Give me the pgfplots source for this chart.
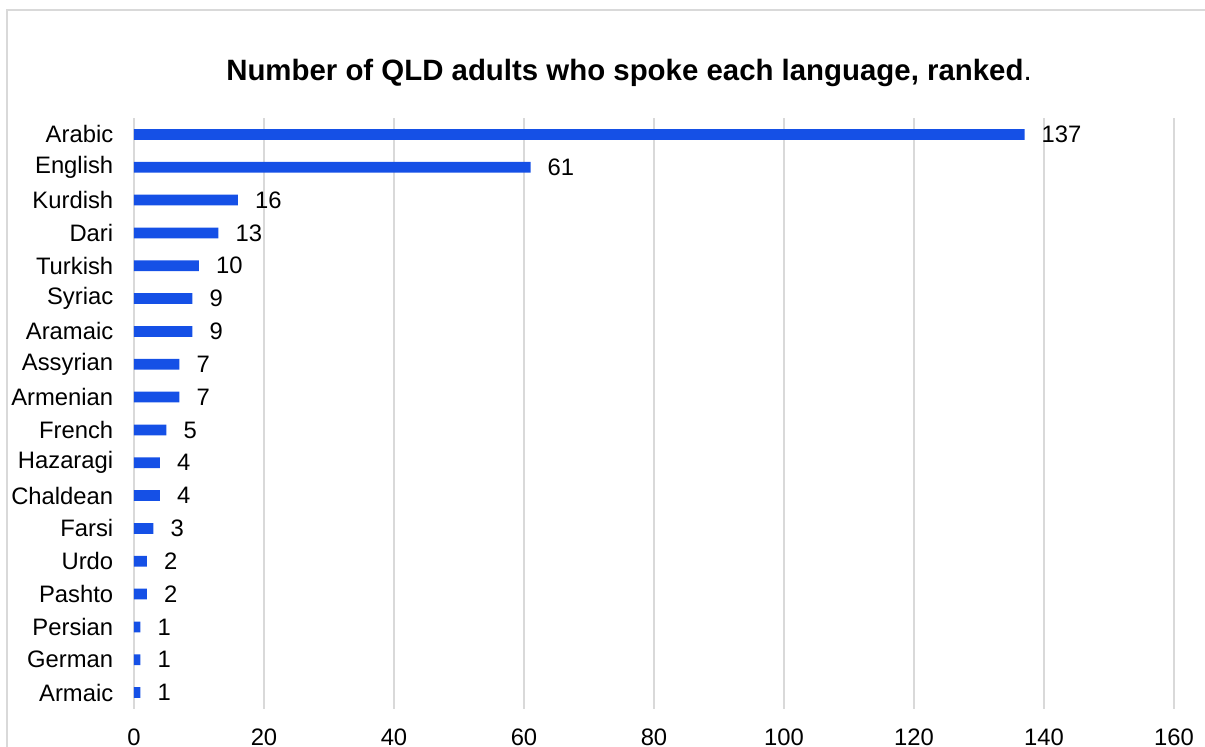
\documentclass[border=0pt]{standalone}
\usepackage{fontspec}
\setmainfont{Liberation Sans}
\usepackage{pgfplots}
\pgfplotsset{compat=1.18}
\definecolor{barblue}{HTML}{1550E6}
\definecolor{gridgray}{HTML}{D9D9D9}
\begin{document}
\begin{tikzpicture}[x=1pt,y=1pt]
\path[use as bounding box] (0,0) rectangle (602.5,373);
\draw[gridgray, line width=0.9pt] (3.5,-10) -- (3.5,368) -- (700,368);
\node[anchor=base, font=\fontsize{14.7}{17}\selectfont\bfseries] at (314.5,332.5) {Number of QLD adults who spoke each language, ranked\textmd{.}};
\begin{axis}[
  at={(67pt,18.5pt)}, anchor=south west,
  width=520pt, height=295.5pt, scale only axis,
  xbar, bar width=5.35pt,
  xmin=0, xmax=160, xtick={0,20,...,160},
  ymin=-0.5, ymax=17.5, y dir=reverse,
  ytick={0,...,17},
  yticklabels={Arabic,English,Kurdish,Dari,Turkish,Syriac,Aramaic,Assyrian,Armenian,French,Hazaragi,Chaldean,Farsi,Urdo,Pashto,Persian,German,Armaic},
  axis line style={draw=none},
  tick style={draw=none},
  xmajorgrids, grid style={gridgray, line width=0.9pt},
  /pgf/number format/assume math mode=true,
  ticklabel style={font=\fontsize{11.9}{14}\selectfont},
  yticklabel style={xshift=-2.6pt},
  xticklabel style={yshift=-6.6pt},
  nodes near coords,
  nodes near coords style={font=\fontsize{11.9}{14}\selectfont, anchor=west, xshift=5pt, /pgf/number format/assume math mode=true},
]
\addplot[fill=barblue, draw=none] coordinates {
(137,0) (61,1) (16,2) (13,3) (10,4) (9,5) (9,6) (7,7) (7,8) (5,9) (4,10) (4,11) (3,12) (2,13) (2,14) (1,15) (1,16) (1,17)
};
\end{axis}
\end{tikzpicture}
\end{document}
